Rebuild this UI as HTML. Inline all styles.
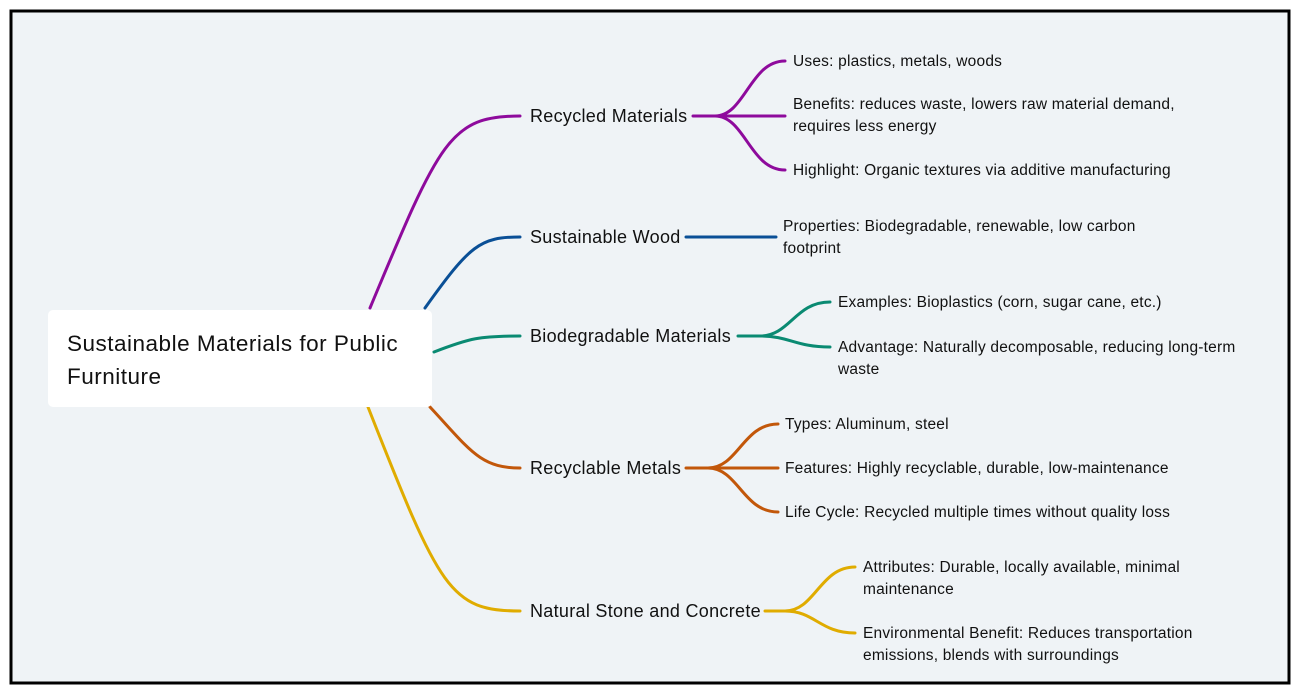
<!DOCTYPE html>
<html><head><meta charset="utf-8"><style>
html,body{margin:0;padding:0;background:#fff;}
svg{display:block;}
text{font-family:"Liberation Sans",sans-serif;fill:#111;}
.b{font-size:18px;letter-spacing:0.3px;}
.l{font-size:15.5px;letter-spacing:0.2px;}
</style></head><body>
<svg width="1300" height="694" viewBox="0 0 1300 694" xmlns="http://www.w3.org/2000/svg">
<rect x="0" y="0" width="1300" height="694" fill="#fff"/>
<rect x="11" y="11" width="1278" height="672" fill="#eff3f6" stroke="#000" stroke-width="3"/>
<g fill="none" stroke-width="3" stroke-linecap="round">
<path d="M370 308 C 440 140, 450 116, 520 116" stroke="#8e0a9c"/>
<path d="M425 308 C 470 245, 480 237, 520 237" stroke="#0a4f96"/>
<path d="M434 352 C 470 338, 480 336, 520 336" stroke="#0a8a72"/>
<path d="M430 407 C 470 450, 480 468, 520 468" stroke="#c2570a"/>
<path d="M368 407 C 440 590, 450 611, 520 611" stroke="#e0ac00"/>
<g stroke="#8e0a9c">
<path d="M693 116 H715"/>
<path d="M715 116 C 745 116, 750 61, 785 61"/>
<path d="M715 116 H785"/>
<path d="M715 116 C 745 116, 750 170, 785 170"/>
</g>
<path d="M686 237 H776" stroke="#0a4f96"/>
<g stroke="#0a8a72">
<path d="M738 336 H760"/>
<path d="M760 336 C 790 336, 795 302, 830 302"/>
<path d="M760 336 C 790 336, 795 347, 830 347"/>
</g>
<g stroke="#c2570a">
<path d="M686 468 H708"/>
<path d="M708 468 C 738 468, 743 424, 778 424"/>
<path d="M708 468 H778"/>
<path d="M708 468 C 738 468, 743 512, 778 512"/>
</g>
<g stroke="#e0ac00">
<path d="M765 611 H785"/>
<path d="M785 611 C 815 611, 820 567, 855 567"/>
<path d="M785 611 C 815 611, 820 633, 855 633"/>
</g>
</g>
<rect x="48" y="310" width="384" height="97" rx="5" fill="#fff"/>
<text x="67" y="351" style="font-size:22.5px;letter-spacing:0.5px">Sustainable Materials for Public</text>
<text x="67" y="384" style="font-size:22.5px;letter-spacing:0.5px">Furniture</text>
<text class="b" x="530" y="122">Recycled Materials</text>
<text class="b" x="530" y="243">Sustainable Wood</text>
<text class="b" x="530" y="342">Biodegradable Materials</text>
<text class="b" x="530" y="474">Recyclable Metals</text>
<text class="b" x="530" y="617">Natural Stone and Concrete</text>
<text class="l" x="793" y="66">Uses: plastics, metals, woods</text>
<text class="l" x="793" y="109">Benefits: reduces waste, lowers raw material demand,</text>
<text class="l" x="793" y="131">requires less energy</text>
<text class="l" x="793" y="175">Highlight: Organic textures via additive manufacturing</text>
<text class="l" x="783" y="231">Properties: Biodegradable, renewable, low carbon</text>
<text class="l" x="783" y="253">footprint</text>
<text class="l" x="838" y="307">Examples: Bioplastics (corn, sugar cane, etc.)</text>
<text class="l" x="838" y="352">Advantage: Naturally decomposable, reducing long-term</text>
<text class="l" x="838" y="374">waste</text>
<text class="l" x="785" y="429">Types: Aluminum, steel</text>
<text class="l" x="785" y="473">Features: Highly recyclable, durable, low-maintenance</text>
<text class="l" x="785" y="517">Life Cycle: Recycled multiple times without quality loss</text>
<text class="l" x="863" y="572">Attributes: Durable, locally available, minimal</text>
<text class="l" x="863" y="594">maintenance</text>
<text class="l" x="863" y="638">Environmental Benefit: Reduces transportation</text>
<text class="l" x="863" y="660">emissions, blends with surroundings</text>
</svg>
</body></html>
